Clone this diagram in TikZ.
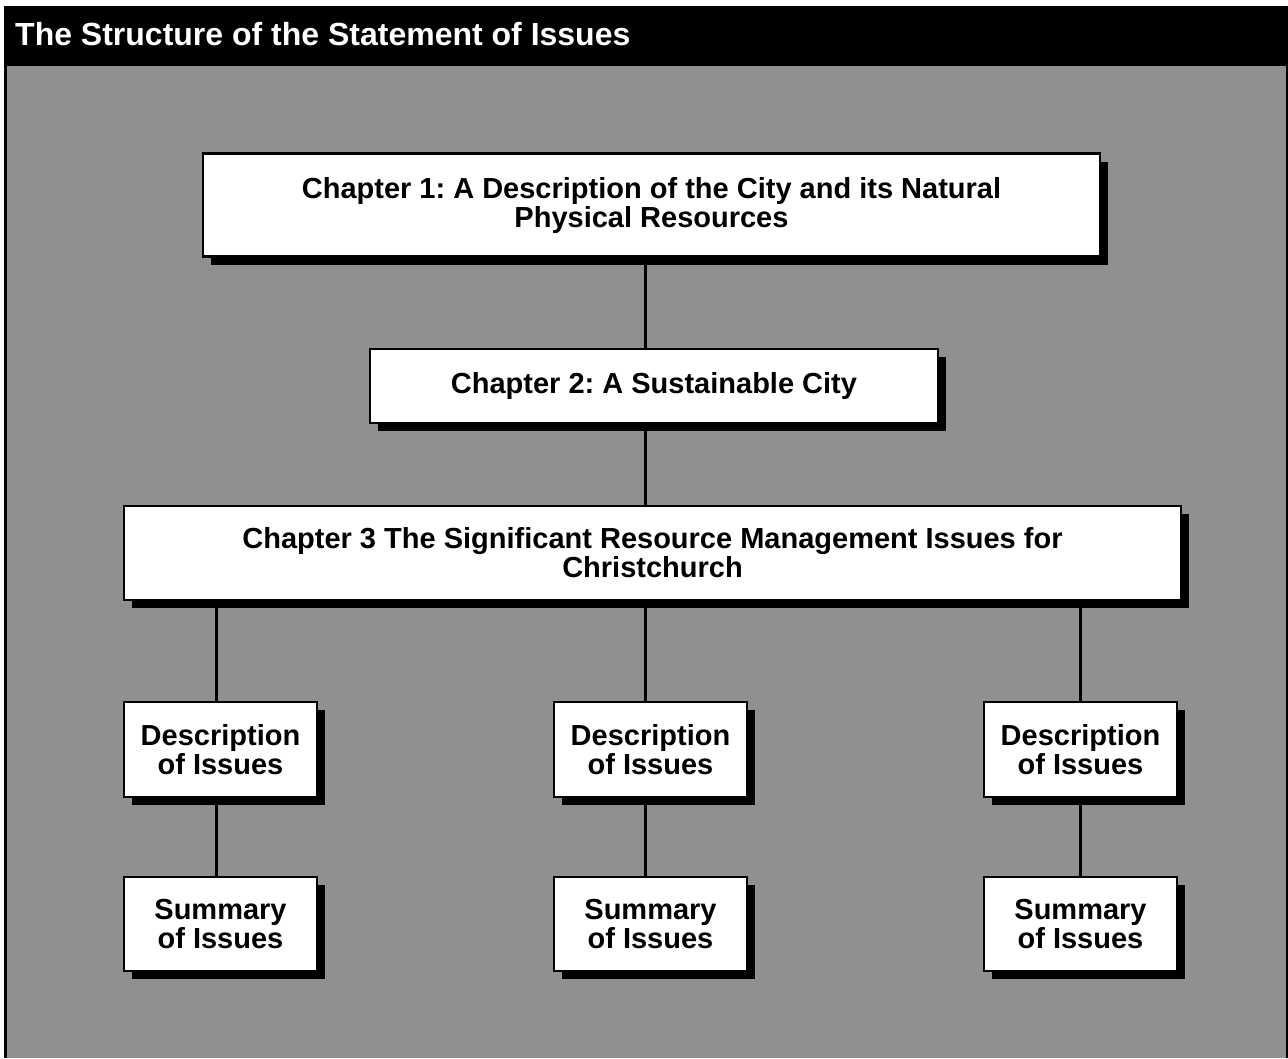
\documentclass[tikz,border=0pt]{standalone}
\usepackage{fontspec}
\setmainfont{Liberation Sans}
\frenchspacing
\usetikzlibrary{shadows}
\pgfdeclarelayer{back}
\pgfdeclarelayer{edges}
\pgfsetlayers{back,edges,main}
\definecolor{panelgray}{RGB}{144,144,144}
\tikzset{
  box/.style={draw=black, line width=2.2pt, fill=white, align=center,
    font=\bfseries\fontsize{29}{29}\selectfont, inner sep=0pt,
    drop shadow={shadow xshift=8pt, shadow yshift=-8pt, fill=black, opacity=1}},
  small/.style={box, minimum width=193pt, minimum height=95pt},
  link/.style={draw=black, line width=3pt}
}
\begin{document}
\begin{tikzpicture}[x=1pt, y=-1pt]
\begin{pgfonlayer}{back}
  \fill[white] (0,0) rectangle (1288,1058);
  \fill[black] (4,6) rectangle (1288,1058);
  \fill[panelgray] (7,66) rectangle (1286,1058);
\end{pgfonlayer}
\useasboundingbox (0,0) rectangle (1288,1058);
\node[anchor=west, text=white, font=\bfseries\fontsize{32}{34}\selectfont, inner sep=0pt] (title) at (15,34) {The Structure of the Statement of Issues};

\node[box, minimum width=897pt, minimum height=103pt] (c1) at (651.5,205)
  {Chapter 1: A Description of the City and its Natural\\Physical Resources};
\node[box, minimum width=568pt, minimum height=74pt] (c2) at (654,386)
  {Chapter 2: A Sustainable City};
\node[box, minimum width=1057pt, minimum height=94pt] (c3) at (652.5,553)
  {Chapter 3 The Significant Resource Management Issues for\\Christchurch};

\node[small] (d1) at (220.5,749.5) {Description\\of Issues};
\node[small] (d2) at (650.5,749.5) {Description\\of Issues};
\node[small] (d3) at (1080.5,749.5) {Description\\of Issues};
\node[small, minimum height=94pt] (s1) at (220.5,924) {Summary\\of Issues};
\node[small, minimum height=94pt] (s2) at (650.5,924) {Summary\\of Issues};
\node[small, minimum height=94pt] (s3) at (1080.5,924) {Summary\\of Issues};

\begin{pgfonlayer}{edges}
  \coordinate (x1) at (216,0);
  \coordinate (x2) at (645,0);
  \coordinate (x3) at (1080,0);
  \draw[link] (c1.south -| x2) -- (c2.north -| x2);
  \draw[link] (c2.south -| x2) -- (c3.north -| x2);
  \draw[link] (c3.south -| x1) -- (d1.north -| x1);
  \draw[link] (c3.south -| x2) -- (d2.north -| x2);
  \draw[link] (c3.south -| x3) -- (d3.north -| x3);
  \draw[link] (d1.south -| x1) -- (s1.north -| x1);
  \draw[link] (d2.south -| x2) -- (s2.north -| x2);
  \draw[link] (d3.south -| x3) -- (s3.north -| x3);
\end{pgfonlayer}
\end{tikzpicture}
\end{document}
